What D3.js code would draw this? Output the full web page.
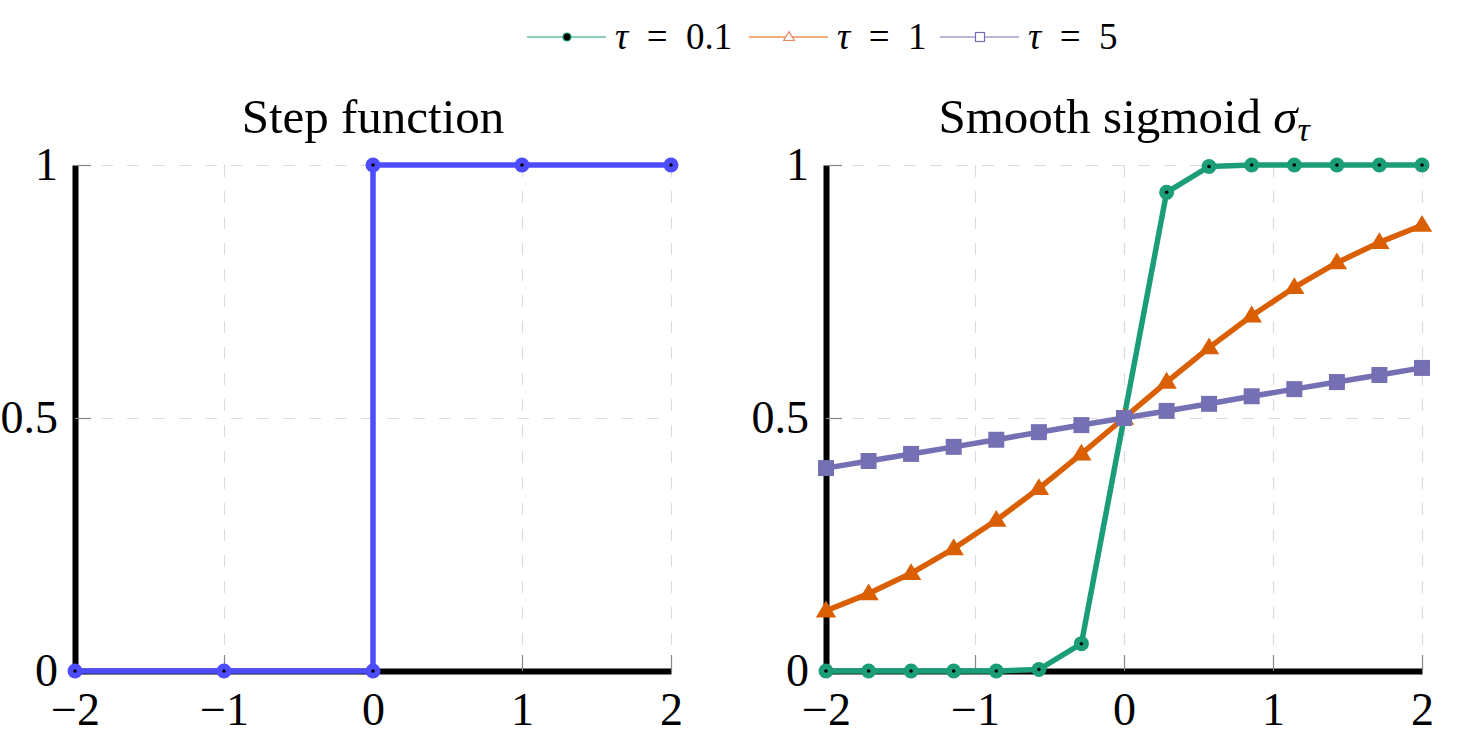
<!DOCTYPE html>
<html>
<head>
<meta charset="utf-8">
<script src="https://cdn.jsdelivr.net/npm/d3@7"></script>
<style>
  body { margin: 0; background: #fff; }
  text { font-family: "Liberation Serif", "DejaVu Serif", serif; fill: #000; }
</style>
</head>
<body>
<script>
// x positions of the samples
var xs = [-2, -1.714, -1.429, -1.143, -0.857, -0.571, -0.286, 0, 0.286, 0.571, 0.857, 1.143, 1.429, 1.714, 2];
var tau01 = [0, 0, 0, 0, 0, 0.003, 0.054, 0.5, 0.946, 0.997, 1, 1, 1, 1, 1];
var tau1 = [0.119, 0.153, 0.193, 0.242, 0.298, 0.361, 0.429, 0.5, 0.571, 0.639, 0.702, 0.758, 0.807, 0.847, 0.881];
var tau5 = [0.401, 0.415, 0.429, 0.443, 0.457, 0.472, 0.486, 0.5, 0.514, 0.528, 0.543, 0.557, 0.571, 0.585, 0.599];

var stepX = [-2, -1, 0, 0, 1, 2];
var stepY = [0, 0, 0, 1, 1, 1];

var xTicks = [-2, -1, 0, 1, 2];
var yTicks = [0, 0.5, 1];

var series = [
    {label: "0.1", values: tau01, color: "#1b9e77", mark: "circle"},
    {label: "1", values: tau1, color: "#d95f02", mark: "triangle"},
    {label: "5", values: tau5, color: "#7570b3", mark: "square"}
];

var width = 1465, height = 742;
var top_y = 165, bottom_y = 671;

var svg = d3.select("body").append("svg")
    .attr("width", width)
    .attr("height", height);

var fmt = d3.format("");

function panel(x0, x1, title) {
    var x = d3.scaleLinear().domain([-2, 2]).range([x0, x1]);
    var y = d3.scaleLinear().domain([0, 1]).range([bottom_y, top_y]);
    var g = svg.append("g");

    // grid
    g.append("g")
        .attr("transform", "translate(0," + bottom_y + ")")
        .call(d3.axisBottom(x).tickValues(xTicks).tickSize(-(bottom_y - top_y)).tickFormat(""))
        .call(function(s) {
            s.select(".domain").remove();
            s.selectAll("line").attr("stroke", "#dcdcdc").attr("stroke-width", 1.2).attr("stroke-dasharray", "12,14");
        });
    g.append("g")
        .attr("transform", "translate(" + x0 + ",0)")
        .call(d3.axisLeft(y).tickValues(yTicks).tickSize(-(x1 - x0)).tickFormat(""))
        .call(function(s) {
            s.select(".domain").remove();
            s.selectAll("line").attr("stroke", "#dcdcdc").attr("stroke-width", 1.2).attr("stroke-dasharray", "12,14");
        });

    // axes
    g.append("g")
        .attr("transform", "translate(0," + bottom_y + ")")
        .call(d3.axisBottom(x).tickValues(xTicks).tickSize(-16).tickSizeOuter(0).tickPadding(21).tickFormat(fmt))
        .call(function(s) {
            s.select(".domain").attr("stroke", "#000").attr("stroke-width", 6);
            s.selectAll(".tick line").attr("stroke", "#888").attr("stroke-width", 1.2);
            s.selectAll("text").attr("font-size", 46);
        });
    g.append("g")
        .attr("transform", "translate(" + x0 + ",0)")
        .call(d3.axisLeft(y).tickValues(yTicks).tickSize(-16).tickSizeOuter(0).tickPadding(17).tickFormat(fmt))
        .call(function(s) {
            s.select(".domain").attr("stroke", "#000").attr("stroke-width", 6);
            s.selectAll(".tick line").attr("stroke", "#888").attr("stroke-width", 1.2);
            s.selectAll("text").attr("font-size", 46);
        });

    g.append("text")
        .attr("x", (x0 + x1) / 2)
        .attr("y", 133)
        .attr("text-anchor", "middle")
        .attr("font-size", 49)
        .html(title);

    return {g: g, x: x, y: y};
}

// left: step function
var L = panel(75, 671, "Step function");
var stepPts = stepX.map(function(d, i) { return [d, stepY[i]]; });
L.g.append("path")
    .datum(stepPts)
    .attr("fill", "none")
    .attr("stroke", "#4d4dff")
    .attr("stroke-width", 5.5)
    .attr("d", d3.line().x(function(d) { return L.x(d[0]); }).y(function(d) { return L.y(d[1]); }));
L.g.selectAll(".sdot").data(stepPts).enter().append("circle")
    .attr("cx", function(d) { return L.x(d[0]); })
    .attr("cy", function(d) { return L.y(d[1]); })
    .attr("r", 7.5).attr("fill", "#4d4dff");
L.g.selectAll(".scen").data(stepPts).enter().append("circle")
    .attr("cx", function(d) { return L.x(d[0]); })
    .attr("cy", function(d) { return L.y(d[1]); })
    .attr("r", 1.8).attr("fill", "#000");

// right: sigmoids
var R = panel(826, 1422, "Smooth sigmoid <tspan font-style='italic'>σ</tspan><tspan font-style='italic' font-size='34' dy='8'>τ</tspan>");

function drawMark(sel, mark, color, size, filled) {
    if (mark === "circle") {
        sel.append("circle").attr("r", size)
            .attr("fill", filled ? color : "#000")
            .attr("stroke", filled ? "none" : color).attr("stroke-width", 1.2);
        sel.append("circle").attr("r", filled ? 1.8 : 0).attr("fill", "#000");
    } else if (mark === "triangle") {
        var s = size * 1.2;
        sel.append("path")
            .attr("d", "M0," + (-s) + "L" + (s * 1.0) + "," + (s * 0.65) + "L" + (-s * 1.0) + "," + (s * 0.65) + "Z")
            .attr("fill", filled ? color : "#fff")
            .attr("stroke", filled ? "none" : "#e8876a").attr("stroke-width", 1.2);
    } else {
        sel.append("rect").attr("x", -size).attr("y", -size).attr("width", size * 2).attr("height", size * 2)
            .attr("fill", filled ? color : "#fff")
            .attr("stroke", filled ? "none" : color).attr("stroke-width", 1.2);
    }
}

var markSize = {circle: 7.5, triangle: 8.5, square: 8};
series.forEach(function(s) {
    var pts = xs.map(function(d, i) { return [d, s.values[i]]; });
    R.g.append("path")
        .datum(pts)
        .attr("fill", "none")
        .attr("stroke", s.color)
        .attr("stroke-width", 5.5)
        .attr("stroke-linejoin", "round")
        .attr("d", d3.line().x(function(d) { return R.x(d[0]); }).y(function(d) { return R.y(d[1]); }));
    R.g.selectAll(".m" + s.mark).data(pts).enter().append("g")
        .attr("transform", function(d) { return "translate(" + R.x(d[0]) + "," + R.y(d[1]) + ")"; })
        .each(function() { drawMark(d3.select(this), s.mark, s.color, markSize[s.mark], true); });
});

// legend
var legendX = [527, 749, 940];
var leg = svg.append("g");
series.forEach(function(s, i) {
    var lx = legendX[i];
    var lg = leg.append("g").attr("transform", "translate(" + lx + ",37)");
    lg.append("line").attr("x1", 0).attr("x2", 79).attr("y1", 0).attr("y2", 0)
        .attr("stroke", s.color).attr("stroke-width", 1.2);
    var m = lg.append("g").attr("transform", "translate(40,0)");
    drawMark(m, s.mark, s.color, s.mark === "circle" ? 4 : 4.5, false);
    lg.append("text")
        .attr("x", 88).attr("y", 12)
        .attr("font-size", 37)
        .html("<tspan font-style='italic'>τ</tspan>\u2002=\u2002" + s.label);
});
</script>
</body>
</html>
